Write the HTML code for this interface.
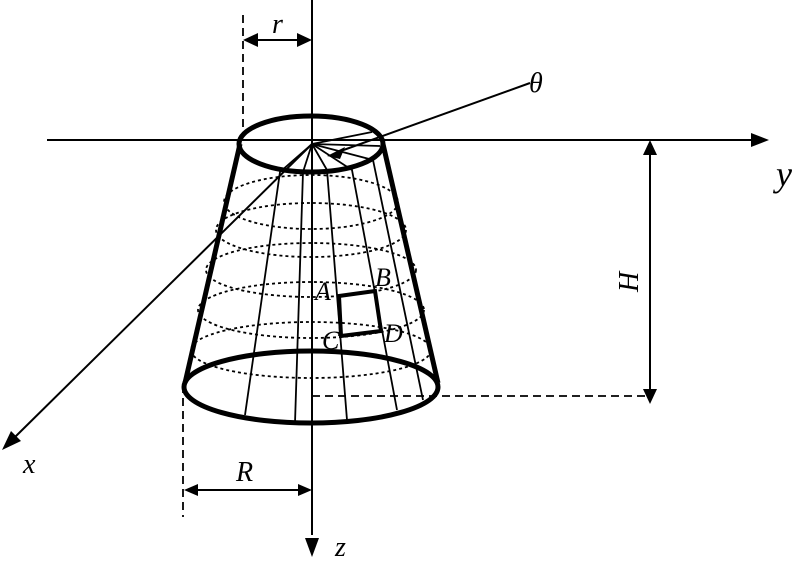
<!DOCTYPE html>
<html>
<head>
<meta charset="utf-8">
<style>
html,body{margin:0;padding:0;background:#fff}
svg{display:block}
text{font-family:"Liberation Serif",serif;font-style:italic;fill:#000}
</style>
</head>
<body>
<svg width="800" height="563" viewBox="0 0 800 563" xmlns="http://www.w3.org/2000/svg">
<rect width="800" height="563" fill="#fff"/>
<!-- dotted rings -->
<g fill="none" stroke="#000" stroke-width="1.8" stroke-dasharray="3 3">
<ellipse cx="311" cy="202" rx="87" ry="27"/>
<ellipse cx="311" cy="230" rx="95" ry="27"/>
<ellipse cx="311" cy="270" rx="105" ry="27"/>
<ellipse cx="311" cy="310" rx="113" ry="28"/>
<ellipse cx="311" cy="350" rx="120" ry="28"/>
</g>
<!-- meridians -->
<g fill="none" stroke="#000" stroke-width="1.8">
<path d="M312 144L280 172L245 415"/>
<path d="M312 144L303 172L295 423"/>
<path d="M312 144L327 170L347 420"/>
<path d="M312 144L352 170L397 410"/>
<path d="M312 144L373 160L423 400"/>
<path d="M312 144L380 146"/>
<path d="M312 144L372 132"/>
</g>
<!-- axes -->
<g fill="none" stroke="#000" stroke-width="2">
<path d="M47 140H755"/>
<path d="M312 0V535"/>
<path d="M312 144L14 438"/>
<path d="M530 83L338 152"/>
<path d="M650 155V390"/>
<path d="M257 40H298"/>
<path d="M198 490H298"/>
</g>
<!-- dashed -->
<g fill="none" stroke="#000" stroke-width="1.8" stroke-dasharray="8 5">
<path d="M243 15V135"/>
<path d="M183 385V517"/>
<path d="M312 396H650"/>
</g>
<!-- frustum -->
<g fill="none" stroke="#000" stroke-width="5">
<ellipse cx="311" cy="144" rx="72" ry="28"/>
<ellipse cx="311" cy="387" rx="127" ry="36"/>
<path d="M240 144L185 383"/>
<path d="M383 144L438 383"/>
</g>
<!-- patch -->
<path d="M339 296L375 291L381 331L341 336Z" fill="none" stroke="#000" stroke-width="4"/>
<!-- arrowheads -->
<g fill="#000">
<path d="M769 140L751 133V147Z"/>
<path d="M312 557L305 538H319Z"/>
<path d="M2 450L21 441L11 431Z"/>
<path d="M327 156L345 147L340 159Z"/>
<path d="M650 140L643 155H657Z"/>
<path d="M650 404L643 389H657Z"/>
<path d="M243 40L258 33V47Z"/>
<path d="M312 40L297 33V47Z"/>
<path d="M184 490L198 484V496Z"/>
<path d="M312 490L298 484V496Z"/>
</g>
<!-- labels -->
<text x="529" y="92" font-size="28">θ</text>
<text x="776" y="186" font-size="36">y</text>
<text x="23" y="473" font-size="28">x</text>
<text x="335" y="556" font-size="28">z</text>
<text x="272" y="33" font-size="28">r</text>
<text x="236" y="481" font-size="28">R</text>
<text transform="translate(638 292) rotate(-90)" font-size="28">H</text>
<text x="315" y="300" font-size="26">A</text>
<text x="375" y="286" font-size="26">B</text>
<text x="322" y="349" font-size="26">C</text>
<text x="384" y="342" font-size="26">D</text>
</svg>
</body>
</html>
